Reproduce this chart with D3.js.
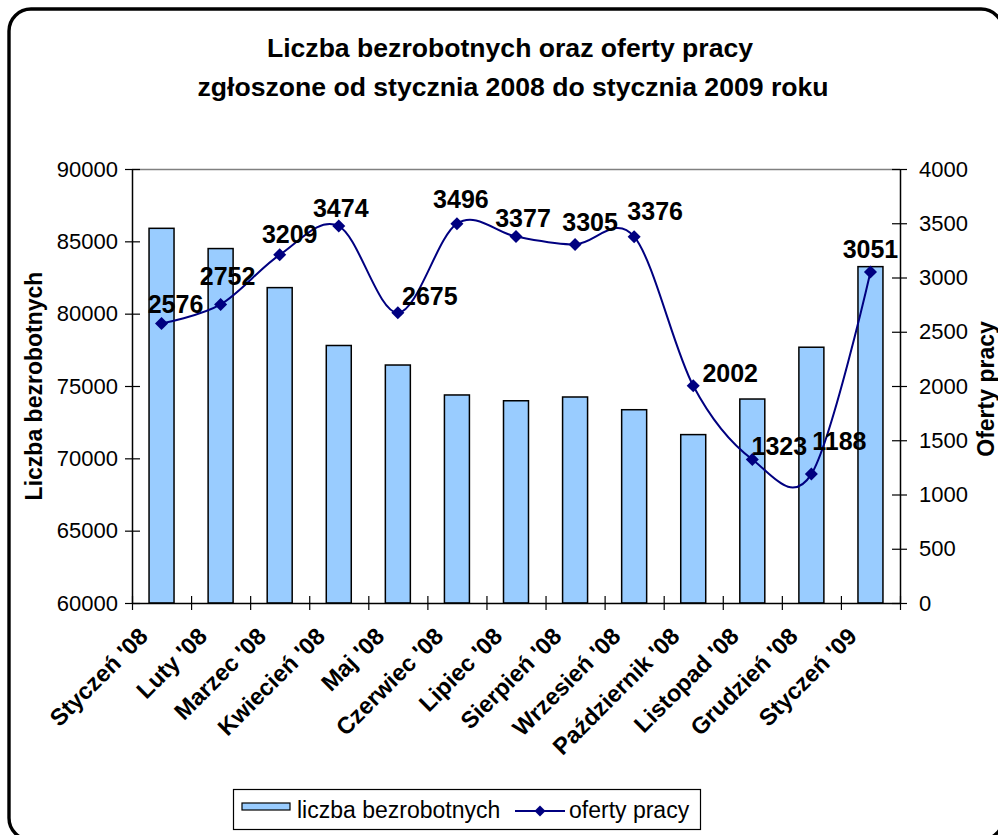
<!DOCTYPE html>
<html>
<head>
<meta charset="utf-8">
<script src="https://cdn.jsdelivr.net/npm/d3@7"></script>
<style>
  body { margin: 0; background: #fff; }
  svg text { font-family: "Liberation Sans", Arial, sans-serif; fill: #000; }
</style>
</head>
<body>
<script>
const w = 998;
const h = 835;

// data
const months = ["Styczeń '08", "Luty '08", "Marzec '08", "Kwiecień '08", "Maj '08", "Czerwiec '08",
  "Lipiec '08", "Sierpień '08", "Wrzesień '08", "Październik '08", "Listopad '08", "Grudzień '08", "Styczeń '09"];
const bezrobotni = [85900, 84500, 81800, 77800, 76450, 74380, 73980, 74240, 73360, 71640, 74100, 77680, 83250];
const oferty = [2576, 2752, 3209, 3474, 2675, 3496, 3377, 3305, 3376, 2002, 1323, 1188, 3051];
const leftTicks = [60000, 65000, 70000, 75000, 80000, 85000, 90000];
const rightTicks = [0, 500, 1000, 1500, 2000, 2500, 3000, 3500, 4000];

// hand placed label offsets (dx, dy from the marker)
const labelOffsets = [[14, -11], [7, -19], [10, -12], [2, -9], [32, -8], [4, -16], [7, -10],
  [15, -13], [21, -17], [37, -4], [27, -4], [28, -24], [0, -14]];

const plot = { left: 132, right: 900, top: 169, bottom: 603 };
const barColor = "#99CCFF";
const lineColor = "#000080";

const svg = d3.select("body").append("svg")
  .attr("width", w)
  .attr("height", h);

// outer frame
svg.append("rect")
  .attr("x", 9).attr("y", 9)
  .attr("width", 994).attr("height", 831)
  .attr("rx", 22).attr("ry", 22)
  .attr("fill", "#fff")
  .attr("stroke", "#000")
  .attr("stroke-width", 3.4);

// title
const title = svg.append("text")
  .attr("text-anchor", "middle")
  .style("font-size", "26.6px")
  .style("font-weight", "bold");
title.append("tspan").attr("x", 510).attr("y", 57).text("Liczba bezrobotnych oraz oferty pracy");
title.append("tspan").attr("x", 513).attr("y", 96).text("zgłoszone od stycznia 2008 do stycznia 2009 roku");

// scales
const x = d3.scaleBand()
  .domain(months)
  .range([plot.left, plot.right])
  .paddingInner(0.577)
  .paddingOuter(0.577 / 2);

const xEdge = d3.scaleLinear()
  .domain([0, months.length])
  .range([plot.left, plot.right]);

const yL = d3.scaleLinear()
  .domain([60000, 90000])
  .range([plot.bottom, plot.top]);

const yR = d3.scaleLinear()
  .domain([0, 4000])
  .range([plot.bottom, plot.top]);

// plot area top border
svg.append("line")
  .attr("x1", plot.left).attr("x2", plot.right)
  .attr("y1", plot.top + 0.5).attr("y2", plot.top + 0.5)
  .attr("stroke", "#808080")
  .attr("stroke-width", 1.5);

// bars
svg.append("g").selectAll("rect")
  .data(bezrobotni)
  .enter()
  .append("rect")
  .attr("x", (d, i) => x(months[i]))
  .attr("y", d => yL(d))
  .attr("width", x.bandwidth())
  .attr("height", d => yL(60000) - yL(d))
  .attr("fill", barColor)
  .attr("stroke", "#000")
  .attr("stroke-width", 1.5);

// axes
function styleAxis(g, inner, outer, horizontal) {
  g.select(".domain").attr("stroke", "#000").attr("stroke-width", 1.5);
  g.selectAll(".tick line").attr("stroke", "#000").attr("stroke-width", 1.2);
  if (horizontal) {
    g.selectAll(".tick line").attr("y1", -inner).attr("y2", outer);
  }
}

const gLeft = svg.append("g")
  .attr("transform", `translate(${plot.left},0)`)
  .call(d3.axisLeft(yL).tickValues(leftTicks).tickSize(7).tickSizeOuter(0).tickPadding(7).tickFormat(d3.format("d")));
gLeft.selectAll(".tick line").attr("x2", -7).attr("x1", 8);
gLeft.selectAll("text").style("font-size", "22px");
styleAxis(gLeft);

const gRight = svg.append("g")
  .attr("transform", `translate(${plot.right},0)`)
  .call(d3.axisRight(yR).tickValues(rightTicks).tickSize(7).tickSizeOuter(0).tickPadding(12).tickFormat(d3.format("d")));
gRight.selectAll(".tick line").attr("x2", 7).attr("x1", -8);
gRight.selectAll("text").style("font-size", "22px");
styleAxis(gRight);

const gBottom = svg.append("g")
  .attr("transform", `translate(0,${plot.bottom})`)
  .call(d3.axisBottom(xEdge).tickValues(d3.range(months.length + 1)).tickSize(7).tickSizeOuter(0).tickFormat(""));
styleAxis(gBottom, 7, 7, true);

// category labels
svg.append("g").selectAll("text")
  .data(months)
  .enter()
  .append("text")
  .attr("transform", d => `translate(${x(d) + x.bandwidth() / 2 - 18},${plot.bottom + 29}) rotate(-45)`)
  .attr("text-anchor", "end")
  .attr("dy", "0.35em")
  .style("font-size", "23.5px")
  .style("font-weight", "bold")
  .text(d => d);

// axis titles
svg.append("text")
  .attr("transform", "translate(42,386) rotate(-90)")
  .attr("text-anchor", "middle")
  .style("font-size", "23px")
  .style("font-weight", "bold")
  .text("Liczba bezrobotnych");

svg.append("text")
  .attr("transform", "translate(994,389) rotate(-90)")
  .attr("text-anchor", "middle")
  .style("font-size", "23px")
  .style("font-weight", "bold")
  .text("Oferty pracy");

// line
const cx = i => x(months[i]) + x.bandwidth() / 2;
const line = d3.line()
  .x((d, i) => cx(i))
  .y(d => yR(d))
  .curve(d3.curveCardinal.tension(0));

svg.append("path")
  .datum(oferty)
  .attr("d", line)
  .attr("fill", "none")
  .attr("stroke", lineColor)
  .attr("stroke-width", 2);

const diamond = d3.symbol().type(d3.symbolSquare).size(85);
svg.append("g").selectAll("path")
  .data(oferty)
  .enter()
  .append("path")
  .attr("d", diamond)
  .attr("transform", (d, i) => `translate(${cx(i)},${yR(d)}) rotate(45)`)
  .attr("fill", lineColor);

// value labels
svg.append("g").selectAll("text")
  .data(oferty)
  .enter()
  .append("text")
  .attr("x", (d, i) => cx(i) + labelOffsets[i][0])
  .attr("y", (d, i) => yR(d) + labelOffsets[i][1])
  .attr("text-anchor", "middle")
  .style("font-size", "25px")
  .style("font-weight", "bold")
  .text(d => d);

// legend
const legend = svg.append("g");
legend.append("rect")
  .attr("x", 233.5).attr("y", 789.5)
  .attr("width", 467).attr("height", 40)
  .attr("fill", "#fff")
  .attr("stroke", "#000")
  .attr("stroke-width", 1.2);
legend.append("rect")
  .attr("x", 242).attr("y", 803)
  .attr("width", 48).attr("height", 7)
  .attr("fill", barColor)
  .attr("stroke", "#000")
  .attr("stroke-width", 1.2);
legend.append("text")
  .attr("x", 297).attr("y", 818)
  .style("font-size", "23px")
  .text("liczba bezrobotnych");
legend.append("line")
  .attr("x1", 515).attr("x2", 565)
  .attr("y1", 811).attr("y2", 811)
  .attr("stroke", lineColor)
  .attr("stroke-width", 2);
legend.append("path")
  .attr("d", d3.symbol().type(d3.symbolSquare).size(60))
  .attr("transform", "translate(540,811) rotate(45)")
  .attr("fill", lineColor);
legend.append("text")
  .attr("x", 569).attr("y", 818)
  .style("font-size", "23px")
  .text("oferty pracy");
</script>
</body>
</html>
